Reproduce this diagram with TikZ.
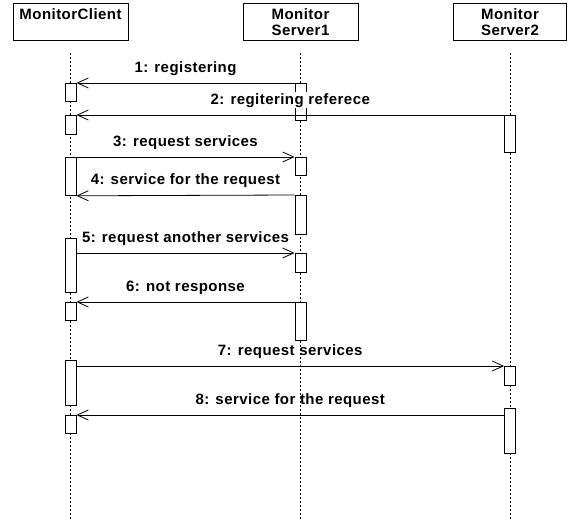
\documentclass[tikz,border=0pt]{standalone}
\usepackage{fontspec}
\newfontfamily\hdfont{Liberation Sans}[LetterSpace=3]
\usetikzlibrary{arrows.meta}
\begin{document}
\begin{tikzpicture}[x=1pt,y=-1pt,line width=0.8pt,
 txt/.style={font=\hdfont\bfseries\fontsize{15}{16}\selectfont},
 hd/.style={draw,txt,minimum height=37pt,align=center,inner sep=2pt},
 act/.style={draw,fill=white,minimum width=11pt,inner sep=0pt,anchor=north},
 life/.style={dash pattern=on 2pt off 2pt},
 msg/.style={-{Straight Barb[length=11pt,width=10pt]}},
 lbl/.style={txt,anchor=base,yshift=11pt,inner sep=1pt}]
\useasboundingbox (0,0) rectangle (572,519);
% lifelines
\node[hd,minimum width=115pt] (hc) at (70.5,22) {MonitorClient\\\mbox{}};
\node[hd,minimum width=115pt] (h1) at (300.5,22) {Monitor\\Server1};
\node[hd,minimum width=113pt] (h2) at (510,22) {Monitor\\Server2};
\coordinate (bot) at (0,519);
\foreach \h in {hc,h1,h2} \draw[life] ([yshift=-12pt]\h.south) -- (\h.south |- bot);
% activations
\node[act,minimum height=18pt] (c1) at (70.5,83) {};
\node[act,minimum height=19pt] (c2) at (70.5,115) {};
\node[act,minimum height=38pt] (c3) at (70.5,157) {};
\node[act,minimum height=54pt] (c5) at (70.5,238) {};
\node[act,minimum height=18pt] (c6) at (70.5,302) {};
\node[act,minimum height=45pt] (c7) at (70.5,360) {};
\node[act,minimum height=18pt] (c8) at (70.5,415) {};
\node[act,minimum height=37pt] (a1) at (300.5,83) {};
\node[act,minimum height=18pt] (a3) at (300.5,157) {};
\node[act,minimum height=39pt] (a4) at (300.5,195) {};
\node[act,minimum height=19pt] (a5) at (300.5,253) {};
\node[act,minimum height=38pt] (a6) at (300.5,302) {};
\node[act,minimum height=37pt] (b2) at (510,115) {};
\node[act,minimum height=19pt] (b7) at (510,366) {};
\node[act,minimum height=45pt] (b8) at (510,408) {};
% messages
\draw[msg] (a1.north west) -- node[lbl] (l1) {1: registering} (c1.north east);
\draw[msg] (b2.north west) -- node[lbl,fill=white] (l2) {2: regitering referece} (c2.north east);
\draw[msg] (c3.north east) -- node[lbl] (l3) {3: request services} (a3.north west);
\draw[msg] (a4.north west) -- node[lbl] (l4) {4: service for the request} (c3.south east);
\draw[msg] (c5.east |- a5.north) -- node[lbl] (l5) {5: request another services} (a5.north west);
\draw[msg] (a6.north west) -- node[lbl] (l6) {6: not response} (c6.north east);
\draw[msg] (c7.east |- b7.north) -- node[lbl] (l7) {7: request services} (b7.north west);
\draw[msg] (b8.west |- c8.north) -- node[lbl] (l8) {8: service for the request} (c8.north east);
\end{tikzpicture}
\end{document}
